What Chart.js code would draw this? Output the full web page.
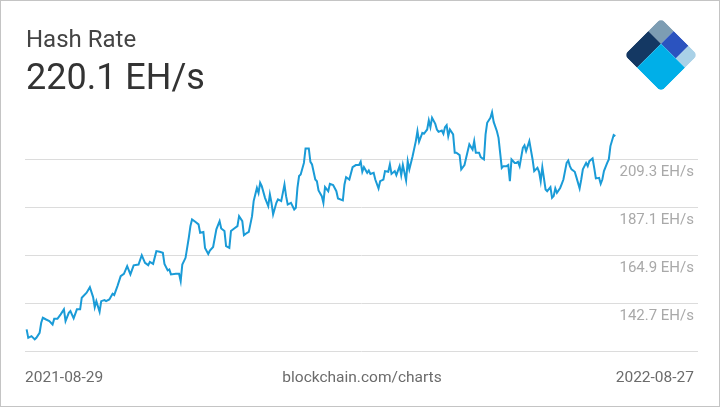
<!DOCTYPE html>
<html>
<head>
<meta charset="utf-8">
<script src="https://cdn.jsdelivr.net/npm/chart.js@4.4.1/dist/chart.umd.min.js"></script>
<style>
	html, body { margin: 0; padding: 0; background: #fff; }
	#card {
		position: absolute; left: 0; top: 0; width: 720px; height: 407px;
		box-sizing: border-box; border: 1px solid #c4c4c4; background: #fff;
		font-family: Roboto, sans-serif; overflow: hidden;
	}
	#chartBox { position: absolute; left: 0; top: 0; width: 722px; height: 407px; }
	.txt { position: absolute; white-space: nowrap; line-height: normal; }
	#title { left: 25px; top: 24px; font-size: 24px; color: #444; }
	#bigValue { left: 25px; top: 55px; font-size: 36px; color: #333; }
	.foot { top: 367px; font-size: 15.5px; color: #6b6b6b; }
	#startLbl { left: 24px; }
	#sourceLbl { left: 0; width: 722px; text-align: center; }
	#endLbl { right: 25px; }
	#logo { position: absolute; left: 620px; top: 14px; }
</style>
</head>
<body>
<div id="card">
	<div id="chartBox"><canvas id="myChart" width="722" height="407"></canvas></div>
	<div class="txt" id="title">Hash Rate</div>
	<div class="txt" id="bigValue"></div>
	<div class="txt foot" id="startLbl"></div>
	<div class="txt foot" id="sourceLbl">blockchain.com/charts</div>
	<div class="txt foot" id="endLbl"></div>
	<svg id="logo" width="80" height="80" viewBox="0 0 80 80">
		<defs>
			<clipPath id="diamond"><rect x="-26" y="-26" width="52" height="52" rx="5" ry="5"/></clipPath>
		</defs>
		<g transform="translate(40,40) rotate(45)" clip-path="url(#diamond)">
			<rect x="-26" y="-26" width="18" height="18" fill="#7d9db3"/>
			<rect x="-26" y="-8" width="18" height="34" fill="#143863"/>
			<rect x="-8" y="-26" width="21" height="18" fill="#2b53bf"/>
			<rect x="13" y="-26" width="13" height="18" fill="#a9d1e7"/>
			<rect x="-8" y="-8" width="34" height="34" fill="#00afe8"/>
		</g>
	</svg>
</div>
<script>
// chart values (day 0 = 2021-08-29)
const startDate = '2021-08-29'
const unit = 'EH/s'
const yTicks = [142.7, 164.9, 187.1, 209.3]
const yBase = 120.5

const days = [
	0, 1, 3, 5, 6, 8, 9, 10, 12, 14, 16, 17, 19, 21, 23, 24, 26, 27, 29, 31,
	33, 34, 37, 39, 41, 42, 43, 45, 46, 48, 49, 51, 53, 54, 56, 58, 60, 62, 64, 66,
	69, 71, 73, 75, 76, 78, 80, 82, 84, 85, 87, 88, 89, 92, 94, 95, 96, 98, 100, 101,
	102, 104, 106, 107, 109, 110, 112, 113, 115, 117, 119, 120, 122, 123, 125, 126, 128, 130, 131, 133,
	134, 136, 137, 139, 140, 142, 143, 144, 145, 147, 149, 150, 151, 152, 154, 155, 157, 159, 160, 161,
	163, 165, 166, 167, 168, 169, 171, 172, 174, 175, 176, 178, 179, 180, 182, 183, 184, 186, 187, 189,
	191, 192, 195, 196, 197, 199, 201, 203, 205, 206, 207, 208, 210, 211, 212, 214, 215, 217, 218, 220,
	221, 223, 224, 225, 227, 228, 230, 231, 232, 234, 235, 236, 238, 240, 241, 242, 244, 245, 247, 248,
	249, 250, 252, 253, 254, 256, 257, 258, 259, 260, 261, 263, 264, 265, 267, 268, 270, 271, 273, 275,
	276, 277, 279, 280, 282, 283, 284, 286, 287, 288, 290, 291, 293, 294, 296, 297, 298, 299, 301, 302,
	303, 304, 306, 307, 308, 310, 312, 313, 315, 316, 317, 318, 320, 321, 323, 324, 325, 326, 327, 329,
	330, 331, 333, 334, 335, 336, 338, 339, 341, 342, 343, 345, 346, 347, 349, 350, 351, 353, 354, 355,
	356, 358, 359, 360, 362, 363
]

const hashRate = [
	130.5, 126.6, 127.4, 125.9, 126.6, 128.9, 133.6, 135.9, 135.1, 134.4, 132.8, 135.4, 135.4, 137.5, 139.8, 134.4, 138.2, 139.0, 135.6, 139.8,
	139.8, 145.2, 147.5, 150.1, 145.5, 140.8, 143.6, 138.7, 143.6, 144.1, 143.6, 144.4, 147.0, 146.4, 150.6, 155.2, 156.3, 159.8, 156.0, 160.2,
	160.6, 164.9, 161.4, 160.3, 161.8, 160.9, 166.8, 166.5, 166.0, 160.9, 157.9, 158.3, 156.0, 156.3, 156.3, 152.9, 160.6, 163.7, 173.0, 178.4,
	181.5, 180.4, 179.2, 175.3, 175.7, 168.3, 165.5, 167.1, 168.7, 176.9, 180.7, 177.3, 176.1, 169.1, 168.3, 176.1, 177.3, 178.4, 183.0, 180.7,
	174.2, 175.3, 175.7, 183.0, 190.0, 196.1, 193.8, 198.5, 196.9, 191.5, 187.7, 193.1, 189.2, 183.8, 189.2, 190.8, 190.0, 197.7, 192.3, 188.4,
	189.2, 186.1, 186.9, 196.1, 201.6, 202.3, 207.7, 214.4, 214.4, 208.2, 207.0, 200.0, 199.2, 194.9, 192.3, 189.2, 196.5, 194.6, 198.0, 197.4,
	194.6, 191.2, 190.3, 197.7, 201.1, 200.0, 205.7, 206.7, 206.7, 208.2, 203.6, 205.7, 203.1, 204.2, 202.6, 203.1, 200.0, 195.9, 199.2, 200.0,
	203.9, 203.6, 207.0, 202.6, 203.9, 202.0, 206.2, 202.0, 206.7, 199.6, 208.5, 204.7, 210.8, 217.8, 222.4, 217.5, 221.6, 221.2, 223.2, 227.4,
	224.3, 228.6, 225.8, 223.2, 222.1, 222.7, 221.2, 224.3, 225.2, 220.1, 223.2, 220.9, 212.4, 212.4, 211.3, 204.7, 206.7, 210.0, 216.3, 213.9,
	217.8, 212.4, 212.4, 210.4, 209.3, 220.9, 226.3, 228.6, 231.2, 226.7, 222.4, 219.3, 205.4, 206.2, 206.2, 206.7, 199.2, 209.3, 207.7, 207.7,
	208.2, 206.2, 214.7, 215.8, 213.2, 217.8, 209.3, 203.9, 205.4, 203.6, 199.2, 205.7, 195.4, 194.6, 196.5, 191.5, 192.3, 195.9, 193.8, 196.1,
	198.0, 200.0, 207.7, 208.8, 206.2, 204.7, 203.6, 201.1, 195.9, 200.0, 204.7, 207.7, 206.2, 208.5, 209.8, 205.4, 200.5, 200.8, 198.0, 200.0,
	203.9, 207.7, 209.3, 215.5, 220.6, 220.1
]

function addDays(dateStr, n) {
	let d = new Date(dateStr + 'T00:00:00Z')
	d.setUTCDate(d.getUTCDate() + n)
	return d.toISOString().slice(0, 10)
}

function init() {
	Chart.defaults.font.family = 'Roboto'
	Chart.defaults.font.size = 15

	document.querySelector('#bigValue').textContent = hashRate[hashRate.length - 1].toFixed(1) + ' ' + unit
	document.querySelector('#startLbl').textContent = addDays(startDate, days[0])
	document.querySelector('#endLbl').textContent = addDays(startDate, days[days.length - 1])

	const points = days.map((d, i) => ({ x: d, y: hashRate[i] }))
	const ctx = document.getElementById('myChart').getContext('2d')

	new Chart(ctx, {
		type: 'line',
		data: {
			datasets: [{
				data: points,
				borderColor: '#1a9bd7',
				borderWidth: 2,
				pointRadius: 0,
				tension: 0,
				fill: false,
			}],
		},
		options: {
			responsive: false,
			animation: false,
			events: [],
			layout: {
				padding: { left: 24, right: 25, top: 100, bottom: 57 },
			},
			plugins: {
				legend: { display: false },
				tooltip: { enabled: false },
			},
			scales: {
				x: {
					type: 'linear',
					display: false,
					min: -1,
					max: 414,
				},
				y: {
					type: 'linear',
					position: 'right',
					min: yBase,
					max: 236.4,
					afterBuildTicks: axis => {
						axis.ticks = [yBase].concat(yTicks).map(v => ({ value: v }))
					},
					// labels sit inside the plot, so the axis takes no room
					afterFit: axis => { axis.width = 0 },
					grid: {
						color: '#dcdcdc',
						drawTicks: false,
					},
					border: { display: false },
					ticks: {
						mirror: true,
						padding: -4,
						labelOffset: 13,
						color: '#a9a9a9',
						callback: value => value == yBase ? '' : value.toFixed(1) + ' ' + unit,
					}
				}
			}
		}
	})
}

init()
</script>
</body>
</html>
